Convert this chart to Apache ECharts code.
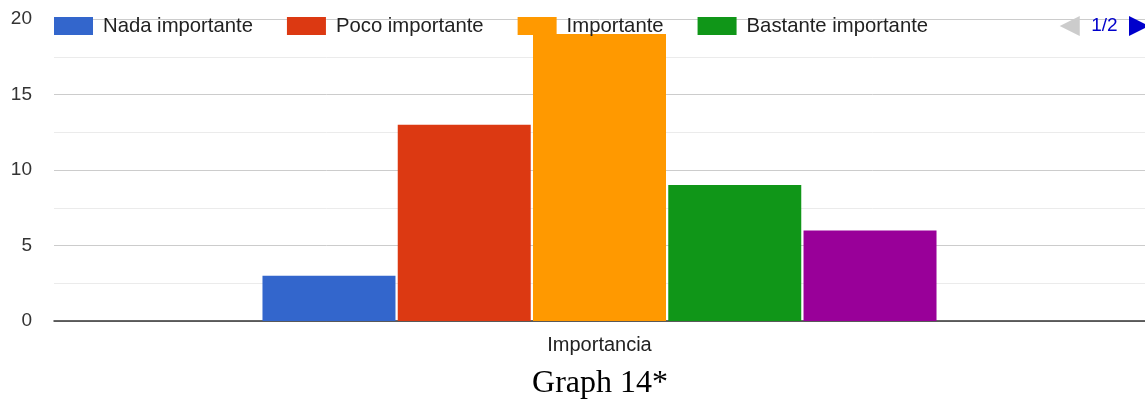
<!DOCTYPE html>
<html>
<head>
<meta charset="utf-8">
<script src="https://cdn.jsdelivr.net/npm/echarts@6/dist/echarts.min.js"></script>
<style>
  html, body { margin: 0; padding: 0; background: #fff; }
  #chart { width: 1145px; height: 401px; }
</style>
</head>
<body>
<div id="chart"></div>
<script>
// Survey answers for the single "Importancia" question
const categories = ['Importancia'];
const seriesNames = ['Nada importante', 'Poco importante', 'Importante', 'Bastante importante', 'Muy importante'];
const seriesValues = [3, 13, 19, 9, 6];
const seriesColors = ['#3366cc', '#dc3912', '#ff9900', '#109618', '#990099'];
const yTicks = { min: 0, max: 20, interval: 5 };
const caption = 'Graph 14*';

const chart = echarts.init(document.getElementById('chart'), null, { renderer: 'canvas' });

const series = seriesNames.map((name, i) => ({
  name: name,
  type: 'bar',
  data: [seriesValues[i]],
  barWidth: 133,
  barGap: '1.7%',
  itemStyle: { color: seriesColors[i] }
}));

chart.setOption({
  animation: false,
  textStyle: { fontFamily: 'Liberation Sans, Arial, sans-serif' },
  grid: { left: 54, right: -3, top: 19, bottom: 80, containLabel: false },
  legend: {
    type: 'scroll',
    left: 54,
    top: 16,
    width: 1095,
    padding: 0,
    itemWidth: 39,
    itemHeight: 18,
    itemGap: 34,
    icon: 'rect',
    textStyle: { fontSize: 20.3, color: '#222', padding: [0, 0, 0, 5] },
    pageButtonPosition: 'end',
    pageButtonGap: 120,
    pageButtonItemGap: 3,
    pageIconSize: [20, 20],
    pageIcons: {
      horizontal: ['path://M0,10L20,0L20,20Z', 'path://M20,10L0,0L0,20Z']
    },
    pageIconColor: '#0000cc',
    pageIconInactiveColor: '#cccccc',
    pageTextStyle: { color: '#0000cc', fontSize: 19 },
    pageFormatter: '{current}/{total}',
    data: seriesNames
  },
  xAxis: {
    type: 'category',
    data: categories,
    axisTick: { show: false },
    axisLine: { lineStyle: { color: '#333', width: 1.5 } },
    axisLabel: { fontSize: 20, color: '#222', margin: 14 }
  },
  yAxis: {
    type: 'value',
    min: yTicks.min,
    max: yTicks.max,
    interval: yTicks.interval,
    axisLine: { show: false },
    axisTick: { show: false },
    axisLabel: { fontSize: 19, color: '#333', margin: 22 },
    splitLine: { lineStyle: { color: '#cccccc', width: 1 } },
    minorTick: { show: false, splitNumber: 2 },
    minorSplitLine: { show: true, lineStyle: { color: '#ebebeb', width: 1 } }
  },
  graphic: [{
    type: 'text',
    x: 600,
    y: 384,
    style: {
      text: caption,
      fontFamily: 'Liberation Serif, Times New Roman, serif',
      fontSize: 32,
      fill: '#000',
      align: 'center',
      verticalAlign: 'middle'
    }
  }],
  series: series
});
</script>
</body>
</html>
